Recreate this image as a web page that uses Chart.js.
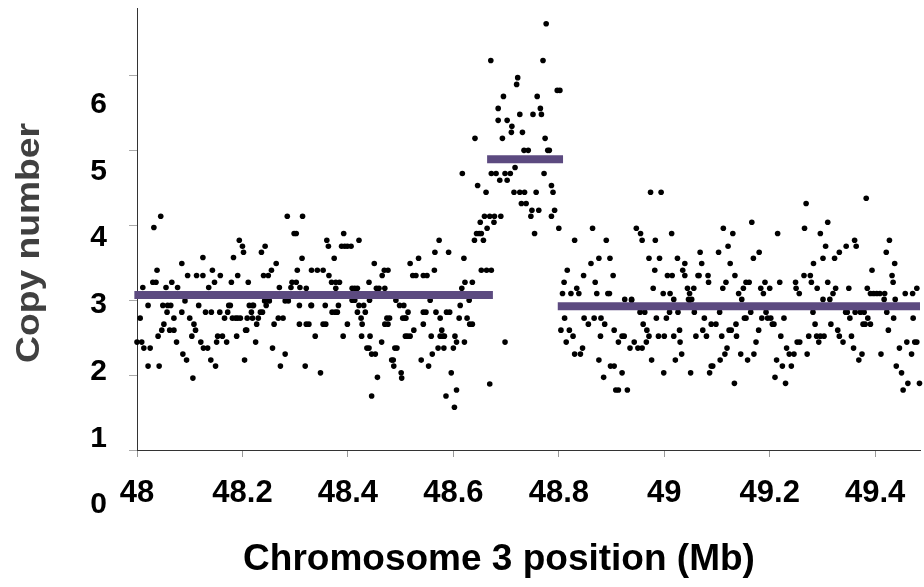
<!DOCTYPE html>
<html>
<head>
<meta charset="utf-8">
<script src="https://cdn.jsdelivr.net/npm/chart.js@4.4.1/dist/chart.umd.min.js"></script>
<style>
  html, body { margin: 0; padding: 0; background: #fff; }
  #wrap { width: 924px; height: 587px; position: relative; }
</style>
</head>
<body>
<div id="wrap"><canvas id="chart"></canvas></div>
<script>
// x ticks (Mb) and their labels
const xTickValues = [48, 48.2, 48.4, 48.6, 48.8, 49, 49.2, 49.4];
const xTickLabels = ["48", "48.2", "48.4", "48.6", "48.8", "49", "49.2", "49.4"];
const yTickValues = [1, 2, 3, 4, 5, 6];
const yTickLabels = ["0", "1", "2", "3", "4", "5", "6"];
const xTitle = "Chromosome 3 position (Mb)";
const yTitle = "Copy number";

// segmented copy number levels
const segStart = [47.995, 48.664, 48.798];
const segEnd = [48.675, 48.808, 49.485];
const segLevel = [3.07, 4.88, 2.92];

// probes: [position Mb, copy number]
const probes = [
  [48.011,3.17],[48.032,3.97],[48.045,4.12],[48.030,3.24],[48.036,3.24],[48.038,3.40],[48.055,3.17],[48.066,3.24],
  [48.077,3.17],[48.085,3.49],[48.096,3.33],[48.113,3.33],[48.125,3.33],[48.125,3.57],[48.136,3.17],[48.143,3.40],
  [48.147,3.24],[48.158,3.33],[48.179,3.24],[48.183,3.57],[48.191,3.33],[48.194,3.80],[48.200,3.72],[48.202,3.64],
  [48.211,3.24],[48.236,3.64],[48.243,3.72],[48.240,3.33],[48.249,3.33],[48.255,3.40],[48.264,3.49],[48.270,3.17],
  [48.285,4.12],[48.292,3.17],[48.294,3.24],[48.298,3.89],[48.302,3.89],[48.302,3.24],[48.304,3.40],[48.309,3.17],
  [48.006,2.76],[48.000,2.44],[48.009,2.44],[48.013,2.36],[48.025,2.36],[48.021,2.12],[48.042,2.12],[48.040,2.52],
  [48.047,2.60],[48.021,2.93],[48.049,2.93],[48.051,2.68],[48.057,2.84],[48.058,2.93],[48.064,2.93],[48.062,2.60],
  [48.070,2.60],[48.070,2.76],[48.075,2.44],[48.085,2.84],[48.087,2.28],[48.091,2.99],[48.094,2.20],[48.104,2.52],
  [48.106,1.96],[48.108,2.68],[48.111,2.60],[48.100,2.76],[48.117,2.93],[48.121,2.44],[48.126,2.36],[48.134,2.36],
  [48.130,2.84],[48.140,2.20],[48.141,2.84],[48.149,2.12],[48.153,2.52],[48.151,2.44],[48.157,2.84],[48.162,2.52],
  [48.166,2.76],[48.170,2.44],[48.172,2.84],[48.174,2.93],[48.177,2.93],[48.181,2.76],[48.189,2.52],[48.187,2.76],
  [48.191,2.76],[48.196,2.76],[48.204,2.20],[48.206,2.60],[48.208,2.60],[48.209,2.76],[48.213,2.93],[48.217,2.84],
  [48.219,2.93],[48.221,2.93],[48.219,2.76],[48.225,2.44],[48.227,2.68],[48.230,2.76],[48.234,2.84],[48.238,2.84],
  [48.245,2.93],[48.242,2.99],[48.251,2.99],[48.257,2.36],[48.260,2.68],[48.268,2.76],[48.272,2.12],[48.277,2.76],
  [48.281,2.28],[48.281,2.99],[48.287,2.99],
  [48.314,4.12],[48.313,3.56],[48.321,3.16],[48.331,3.40],[48.342,3.40],[48.353,3.40],[48.364,3.33],[48.369,3.24],
  [48.377,3.24],[48.384,3.24],[48.360,3.80],[48.363,3.72],[48.374,3.56],[48.377,3.16],[48.392,3.89],[48.388,3.72],
  [48.394,3.72],[48.399,3.72],[48.406,3.72],[48.408,3.16],[48.413,3.16],[48.418,3.16],[48.421,3.80],[48.440,3.24],
  [48.450,3.49],[48.454,3.16],[48.459,3.16],[48.470,3.16],[48.465,3.33],[48.469,3.40],[48.476,3.40],[48.518,3.49],
  [48.523,3.33],[48.529,3.33],[48.534,3.56],[48.543,3.33],[48.550,3.33],[48.564,3.40],[48.565,3.64],[48.573,3.80],
  [48.591,3.64],[48.616,3.16],[48.620,3.56],[48.622,3.24],[48.636,3.24],[48.617,4.69],[48.641,5.16],[48.640,3.80],
  [48.644,3.89],[48.649,3.89],[48.653,3.89],[48.651,4.04],[48.657,3.80],[48.659,4.12],[48.664,3.96],[48.669,4.12],
  [48.677,4.04],[48.678,4.12],[48.690,4.12],[48.646,4.53],[48.662,4.44],[48.653,3.40],[48.663,3.40],[48.672,3.40],
  [48.671,6.20],[48.672,4.69],[48.681,4.69],[48.688,4.60],[48.698,4.69],[48.708,4.69],[48.702,4.60],[48.717,4.77],
  [48.695,5.72],[48.685,5.56],[48.685,5.40],[48.693,5.16],[48.702,5.40],[48.710,5.24],[48.711,5.32],[48.720,5.88],
  [48.722,5.97],[48.726,5.48],[48.731,5.24],[48.734,5.00],[48.742,5.00],[48.715,4.44],[48.726,4.44],[48.735,4.44],
  [48.729,4.29],[48.738,4.29],[48.747,4.12],[48.749,4.20],[48.762,4.20],[48.754,3.89],[48.757,4.44],[48.751,5.48],
  [48.759,5.72],[48.765,5.56],[48.767,5.48],[48.770,6.20],[48.776,6.69],[48.774,5.16],[48.779,5.00],[48.782,5.00],
  [48.772,4.69],[48.786,4.53],[48.789,4.44],[48.786,4.12],[48.792,4.20],[48.800,3.96],[48.797,5.80],[48.802,5.80],
  [48.816,3.40],[48.810,3.24],[48.807,3.09],[48.823,3.09],[48.834,3.16],[48.838,3.09],[48.830,3.80],[48.847,3.33],
  [48.861,3.49],[48.864,3.96],[48.869,3.24],[48.872,3.09],[48.876,3.56],[48.890,3.80],[48.897,3.56],[48.903,3.33],
  [48.893,3.09],[48.896,3.09],
  [48.308,2.93],[48.330,2.93],[48.331,2.93],[48.308,2.68],[48.321,2.68],[48.326,2.68],[48.319,2.12],[48.338,2.52],
  [48.348,2.03],[48.357,2.93],[48.353,2.68],[48.358,2.68],[48.370,2.84],[48.376,2.84],[48.382,2.93],[48.380,2.84],
  [48.391,2.52],[48.399,2.68],[48.408,3.00],[48.413,3.00],[48.418,2.84],[48.421,2.93],[48.425,2.76],[48.427,2.68],
  [48.433,2.84],[48.430,2.93],[48.441,3.00],[48.442,2.52],[48.445,2.28],[48.440,2.36],[48.436,2.36],[48.426,2.52],
  [48.452,2.28],[48.456,1.97],[48.445,1.72],[48.464,2.44],[48.470,2.68],[48.474,2.76],[48.476,2.68],[48.479,2.76],
  [48.483,2.20],[48.486,2.20],[48.487,2.12],[48.489,2.36],[48.493,2.36],[48.491,3.00],[48.498,2.93],[48.506,2.93],
  [48.501,2.03],[48.502,1.96],[48.504,2.76],[48.508,2.76],[48.510,2.76],[48.514,2.84],[48.509,2.52],[48.513,2.52],
  [48.518,2.52],[48.525,2.60],[48.539,2.20],[48.543,2.68],[48.543,2.84],[48.548,2.84],[48.553,2.12],[48.556,3.00],
  [48.558,2.52],[48.560,2.28],[48.567,2.84],[48.571,2.36],[48.575,2.52],[48.580,2.52],[48.583,2.52],[48.578,2.60],
  [48.582,2.36],[48.575,2.76],[48.587,2.84],[48.593,2.84],[48.586,1.72],[48.596,2.03],[48.600,2.36],[48.603,2.52],
  [48.606,1.80],[48.602,1.57],[48.606,2.44],[48.611,2.76],[48.613,2.93],[48.621,2.44],[48.626,2.76],[48.630,3.00],
  [48.631,2.68],[48.636,2.68],[48.669,1.88],[48.698,2.44],[48.804,2.60],[48.811,2.76],[48.814,2.44],[48.820,2.60],
  [48.827,2.52],[48.830,2.28],[48.841,2.28],[48.845,2.36],[48.848,2.76],[48.856,2.68],[48.867,2.76],[48.876,2.20],
  [48.880,2.76],[48.885,1.97],[48.879,2.52],[48.887,2.68],[48.898,2.12],[48.905,2.12],[48.908,1.80],[48.905,2.60],
  [48.925,3.01],[48.938,3.01],[48.947,3.96],[48.955,3.89],[48.958,3.80],[48.974,4.44],[48.994,4.44],[48.971,3.56],
  [48.982,3.40],[48.983,3.80],[48.979,3.16],[48.991,3.56],[48.998,3.09],[49.006,3.33],[49.015,3.33],[49.011,3.09],
  [49.014,3.89],[49.018,3.01],[49.025,3.56],[49.035,3.40],[49.039,3.49],[49.039,3.33],[49.044,3.16],[49.048,3.09],
  [49.046,3.01],[49.052,3.01],[49.056,3.16],[49.064,3.33],[49.066,3.33],[49.068,3.64],[49.071,3.49],[49.083,3.33],
  [49.084,3.24],[49.103,3.64],[49.111,3.16],[49.112,3.96],[49.117,3.24],[49.121,3.72],[49.125,3.49],[49.130,3.89],
  [49.134,3.33],[49.141,3.09],[49.147,3.01],[49.150,3.16],[49.155,3.24],[49.161,3.24],[49.166,4.04],[49.169,3.56],
  [49.180,3.64],[49.183,3.16],[49.188,3.09],[49.191,3.24],[49.200,3.16],[49.215,3.89],[49.219,3.24],[49.249,3.24],
  [49.250,3.16],[49.256,3.09],[49.265,3.33],[49.266,3.96],[49.269,4.29],[49.277,3.33],[49.279,3.24],[49.283,3.49],
  [49.290,3.16],[49.296,3.89],[49.301,3.56],[49.301,3.01],[49.306,3.72],[49.310,3.24],[49.310,4.04],[49.314,3.01],
  [49.320,3.09],[49.323,3.56],[49.325,3.16],[49.332,3.64],[49.345,3.72],[49.350,3.16],[49.361,3.80],[49.364,3.72],
  [49.383,4.36],[49.385,3.16],[49.394,3.40],[49.391,3.09],[49.397,3.09],[49.403,3.09],[49.409,3.09],[49.418,3.09],
  [49.417,3.01],[49.421,3.64],[49.427,3.80],[49.432,3.33],[49.434,3.24],[49.437,3.49],[49.438,3.01],[49.457,3.09],
  [49.471,3.09],[49.479,3.16],
  [48.913,2.44],[48.920,2.52],[48.924,2.52],[48.920,2.03],[48.913,1.80],[48.930,1.80],[48.935,2.36],[48.938,3.00],
  [48.943,2.44],[48.950,2.36],[48.954,2.84],[48.963,2.84],[48.958,2.36],[48.960,2.68],[48.966,2.44],[48.967,2.60],
  [48.971,2.52],[48.976,2.20],[48.985,2.76],[48.989,2.52],[48.999,2.03],[49.000,2.52],[49.004,2.76],[49.010,2.84],
  [49.018,2.52],[49.021,2.20],[49.026,2.84],[49.029,2.60],[49.030,2.44],[49.033,2.28],[49.048,3.00],[49.050,2.03],
  [49.057,2.84],[49.060,2.52],[49.073,2.60],[49.076,2.76],[49.080,2.52],[49.086,2.03],[49.089,2.12],[49.092,2.12],
  [49.089,2.68],[49.098,2.68],[49.105,2.84],[49.106,2.20],[49.109,2.52],[49.115,2.28],[49.119,2.36],[49.123,2.60],
  [49.127,2.60],[49.133,1.89],[49.136,2.68],[49.137,2.52],[49.145,2.28],[49.152,2.76],[49.155,2.76],[49.158,2.20],
  [49.164,2.84],[49.170,2.28],[49.174,2.44],[49.179,2.60],[49.185,2.76],[49.193,2.84],[49.196,2.76],[49.202,2.76],
  [49.205,2.68],[49.208,2.68],[49.210,1.97],[49.213,2.20],[49.221,2.52],[49.224,2.12],[49.227,2.76],[49.230,1.89],
  [49.232,2.36],[49.237,2.28],[49.241,2.12],[49.246,2.28],[49.252,2.44],[49.257,2.44],[49.271,2.28],[49.274,2.52],
  [49.282,2.84],[49.286,2.68],[49.289,2.52],[49.293,2.44],[49.296,2.52],[49.303,2.52],[49.316,2.68],[49.329,2.60],
  [49.332,2.52],[49.339,2.44],[49.344,2.84],[49.347,2.84],[49.352,2.76],[49.355,2.52],[49.359,2.36],[49.362,2.84],
  [49.369,2.20],[49.372,2.84],[49.375,2.28],[49.377,2.68],[49.379,2.84],[49.381,2.68],[49.386,2.76],[49.391,2.68],
  [49.411,2.28],[49.422,2.84],[49.425,2.60],[49.435,2.76],[49.440,2.12],[49.446,2.36],[49.450,2.03],[49.453,1.80],
  [49.460,2.44],[49.462,1.89],[49.469,2.28],[49.472,2.76],[49.475,2.44],[49.479,2.44],[49.484,1.89]
];

const FONT = "'Liberation Sans', Arial, Helvetica, sans-serif";

// y labels and axis titles sit where the original figure put them
const axisText = {
    id: "axisText",
    afterDraw(chart) {
        const { ctx, chartArea } = chart;
        ctx.save();
        ctx.fillStyle = "#000";
        ctx.font = "bold 30px " + FONT;
        ctx.textAlign = "right";
        ctx.textBaseline = "middle";
        yTickLabels.forEach((label, i) => {
            ctx.fillText(label, 107, chartArea.bottom + 55 - i * 66.7);
        });

        ctx.textAlign = "center";
        ctx.font = "bold 37px " + FONT;
        ctx.fillText(xTitle, 499, 560);

        ctx.translate(30, 243);
        ctx.rotate(-Math.PI / 2);
        ctx.fillStyle = "#404040";
        ctx.font = "bold 34px " + FONT;
        const w = ctx.measureText(yTitle).width;
        ctx.scale(240 / w, 1);
        ctx.fillText(yTitle, 0, 0);
        ctx.restore();
    }
};

const segmentSets = segLevel.map((level, i) => ({
    type: "line",
    data: [{ x: segStart[i], y: level }, { x: segEnd[i], y: level }],
    borderColor: "#5c4a80",
    borderWidth: 8,
    borderCapStyle: "butt",
    pointRadius: 0,
    fill: false,
    clip: false,
    order: 0
}));

new Chart(document.getElementById("chart"), {
    type: "scatter",
    data: {
        datasets: [
            ...segmentSets,
            {
                data: probes.map(([x, y]) => ({ x, y })),
                backgroundColor: "#000",
                borderWidth: 0,
                pointRadius: 2.8,
                clip: false,
                order: 1
            }
        ]
    },
    options: {
        responsive: true,
        maintainAspectRatio: false,
        animation: false,
        layout: { padding: { top: 8, right: 0, left: 0, bottom: 0 } },
        plugins: {
            legend: { display: false },
            tooltip: { enabled: false }
        },
        scales: {
            x: {
                type: "linear",
                min: 48,
                max: 49.485,
                afterBuildTicks: (scale) => {
                    scale.ticks = xTickValues.map((v) => ({ value: v }));
                },
                afterFit: (scale) => {
                    scale.height = 137;
                },
                grid: { drawOnChartArea: false, tickLength: 7, color: "#999" },
                border: { color: "#333", width: 1 },
                ticks: {
                    color: "#000",
                    font: { family: FONT, size: 31, weight: "bold" },
                    padding: 18,
                    maxRotation: 0,
                    autoSkip: false,
                    callback: (value, index) => xTickLabels[index]
                }
            },
            y: {
                type: "linear",
                min: 1,
                max: 6.9,
                afterBuildTicks: (scale) => {
                    scale.ticks = yTickValues.map((v) => ({ value: v }));
                },
                afterFit: (scale) => {
                    scale.width = 137;
                },
                grid: { drawOnChartArea: false, tickLength: 8, color: "#aaa" },
                border: { color: "#333", width: 1 },
                ticks: { display: false }
            }
        }
    },
    plugins: [axisText]
});
</script>
</body>
</html>
